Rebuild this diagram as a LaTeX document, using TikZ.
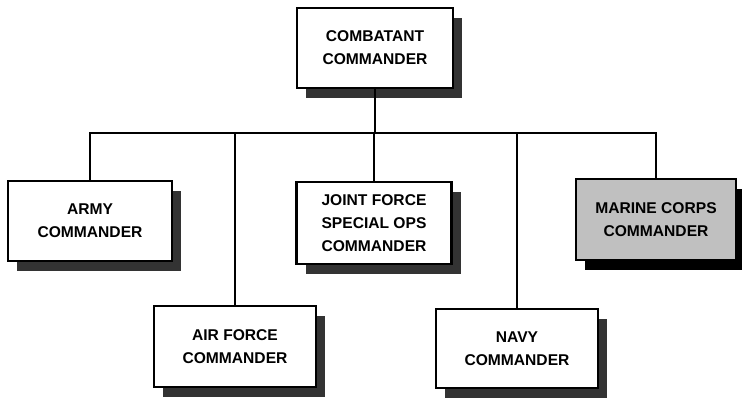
\documentclass[tikz,border=0pt]{standalone}
\usepackage{fontspec}
\setmainfont{Liberation Sans}
\usetikzlibrary{shadows}
\definecolor{shadowgray}{HTML}{333333}
\definecolor{marinegray}{HTML}{C0C0C0}
\begin{document}
\begin{tikzpicture}[x=1pt,y=-1pt,
  unitbox/.style={draw=black, line width=2.3pt, fill=white, rectangle,
    align=center, inner sep=0pt,
    font=\fontsize{15.6}{23}\selectfont\bfseries,
    drop shadow={shadow xshift=9pt, shadow yshift=-10pt, fill=shadowgray, opacity=1, draw=none}},
  link/.style={line width=2.2pt, line cap=rect}]
\useasboundingbox (0,0) rectangle (742,398);
\node[unitbox, minimum width=156pt, minimum height=80pt] (top) at (375,48) {COMBATANT\\COMMANDER};
\node[unitbox, minimum width=164pt, minimum height=80pt] (army) at (90,221) {ARMY\\COMMANDER};
\node[unitbox, minimum width=162pt, minimum height=81pt] (airforce) at (235,346.5) {AIR FORCE\\COMMANDER};
\node[unitbox, minimum width=155pt, minimum height=82pt] (joint) at (374,223) {JOINT FORCE\\SPECIAL OPS\\COMMANDER};
\node[unitbox, minimum width=162pt, minimum height=79pt] (navy) at (517,348.5) {NAVY\\COMMANDER};
\node[unitbox, fill=marinegray, minimum width=160pt, minimum height=81pt,
  drop shadow={shadow xshift=9pt, shadow yshift=-10pt, fill=black, opacity=1, draw=none}] (marine) at (656,219.5) {MARINE CORPS\\COMMANDER};
\coordinate (bus) at (0,133);
\draw[link] (army.north) |- (bus -| marine.north) -- (marine.north);
\draw[link] (top.south) -- (top.south |- bus);
\draw[link] (airforce.north) -- (airforce.north |- bus);
\draw[link] (joint.north) -- (joint.north |- bus);
\draw[link] (navy.north) -- (navy.north |- bus);
\end{tikzpicture}
\end{document}
